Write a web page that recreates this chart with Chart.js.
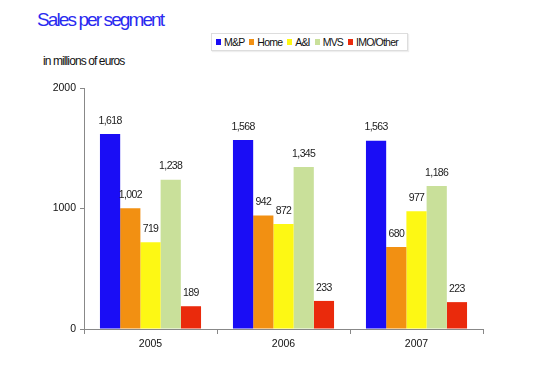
<!DOCTYPE html>
<html><head><meta charset="utf-8">
<script src="https://cdn.jsdelivr.net/npm/chart.js@4/dist/chart.umd.min.js"></script>
<style>
html,body{margin:0;padding:0;background:#fff;}
#wrap{position:relative;width:554px;height:375px;font-family:"Liberation Sans",Arial,sans-serif;}
#title{position:absolute;left:37px;top:9px;font-size:19px;color:#2a2af0;letter-spacing:-1.9px;}
#sub{position:absolute;left:43px;top:54px;font-size:12px;color:#111;letter-spacing:-0.9px;}
#legend{position:absolute;left:211px;top:33px;width:197px;height:18px;border:1px solid #ddd;box-shadow:1px 1px 1px #eee;font-size:10.5px;letter-spacing:-0.8px;color:#111;display:flex;align-items:center;padding-left:4px;box-sizing:border-box;}
#legend span.i{display:inline-flex;align-items:center;margin-right:5px;}
#legend span.s{display:inline-block;width:5px;height:6px;margin-right:3px;}
canvas{position:absolute;left:0;top:0;}
</style></head>
<body><div id="wrap">
<div id="title">Sales per segment</div>
<div id="sub">in millions of euros</div>
<div id="legend"></div>
<canvas id="c" width="554" height="375"></canvas>
</div>
<script>
const categories = ["2005","2006","2007"];
const segments = ["M&P","Home","A&I","MVS","IMO/Other"];
const colors = ["#1a0df5","#f29012","#fdf814","#c9e09a","#ea2a0c"];
const mp = [1618,1568,1563];
const home = [1002,942,680];
const ai = [719,872,977];
const mvs = [1238,1345,1186];
const imo = [189,233,223];
const yTicks = [0,1000,2000];
const seriesValues = [mp,home,ai,mvs,imo];

const lg = document.getElementById('legend');
segments.forEach((s,i)=>{
  const it=document.createElement('span');it.className='i';
  const sq=document.createElement('span');sq.className='s';sq.style.background=colors[i];
  it.appendChild(sq);it.appendChild(document.createTextNode(s));lg.appendChild(it);
});

const labelPlugin = {
  id:'vals',
  afterDatasetsDraw(chart){
    const ctx=chart.ctx;ctx.save();
    ctx.font='10.5px "Liberation Sans", Arial, sans-serif';
    ctx.fillStyle='#222';ctx.textAlign='center';ctx.textBaseline='bottom';
    try{ctx.letterSpacing='-0.6px';}catch(e){}
    chart.data.datasets.forEach((ds,di)=>{
      chart.getDatasetMeta(di).data.forEach((bar,i)=>{
        ctx.fillText(ds.data[i].toLocaleString('en-US'), bar.x, bar.y-8);
      });
    });
    ctx.restore();
  }
};

new Chart(document.getElementById('c'),{
  type:'bar',
  data:{labels:categories,datasets:segments.map((s,i)=>({label:s,data:seriesValues[i],backgroundColor:colors[i],barPercentage:1,categoryPercentage:0.76}))},
  options:{
    responsive:false,animation:false,
    layout:{padding:{top:88,right:71,bottom:0,left:0}},
    plugins:{legend:{display:false},tooltip:{enabled:false}},
    scales:{
      x:{
        grid:{display:true,drawOnChartArea:false,drawTicks:true,tickLength:5,color:'#888',offset:true},
        border:{color:'#888'},
        ticks:{color:'#111',font:{size:10.5,family:'"Liberation Sans", Arial, sans-serif'},padding:4},
        afterFit(s){s.height=46;}
      },
      y:{
        min:0,max:2000,
        afterBuildTicks(s){s.ticks=yTicks.map(v=>({value:v}));},
        grid:{display:true,drawOnChartArea:false,tickLength:4,color:'#888'},
        border:{color:'#888'},
        ticks:{color:'#111',font:{size:10.5,family:'"Liberation Sans", Arial, sans-serif'},padding:4,callback:(v)=>String(v)},
        afterFit(s){s.width=84;}
      }
    }
  },
  plugins:[labelPlugin]
});
</script>
</body></html>
